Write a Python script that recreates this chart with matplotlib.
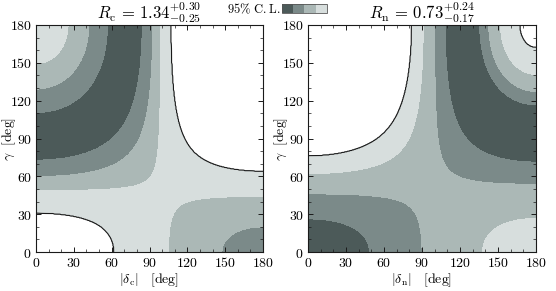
import matplotlib
matplotlib.use("Agg")
import matplotlib.pyplot as plt
import matplotlib.patches as mpatches
from matplotlib.ticker import MultipleLocator
import numpy as np

# measured ratios and quoted errors
R_C, R_C_UP, R_C_DN = 1.34, 0.30, 0.25
R_N, R_N_UP, R_N_DN = 0.73, 0.24, 0.17
# R(delta, gamma) = A + B cos(g) + C cos(d) + E cos(g) cos(d)
COEF_C = (0.9725, -0.084, 0.338, -0.494)
COEF_N = (1.0688, -0.0629, 0.286, -0.44)
# shade boundaries in units of the quoted error, above / below the central value
CL_C_UP = [0.58, 1.12, 1.56, 1.96]
CL_C_DN = [0.80, 1.28, 1.644, 2.10]
CL_N_UP = [0.725, 1.15, 1.625, 2.10]
CL_N_DN = [0.69, 1.035, 1.41, 1.80]
SHADES = ["#4c5a59", "#7b8a89", "#abb8b6", "#d7dedd"]
TICKS = [0, 30, 60, 90, 120, 150, 180]

INK = "#1a1a1a"

plt.rcParams.update({
    "mathtext.fontset": "cm",
    "font.family": "serif",
    "font.serif": ["DejaVu Serif"],
})


def ratio(coef, delta, gamma):
    a, b, c, e = coef
    cd = np.cos(np.radians(delta))
    cg = np.cos(np.radians(gamma))
    return a + b * cg + c * cd + e * cg * cd


def shade_index(dev, sig_up, sig_dn, cl_up, cl_dn):
    steps = [0, 1, 2, 3, 4, 5]
    up = np.interp(dev / sig_up, [0] + cl_up + [cl_up[-1] + 10], steps)
    dn = np.interp(-dev / sig_dn, [0] + cl_dn + [cl_dn[-1] + 10], steps)
    return np.where(dev > 0, up, dn)


def panel(ax, coef, r0, sig_up, sig_dn, cl_up, cl_dn, xlabel, title):
    d = np.linspace(0, 180, 361)
    g = np.linspace(0, 180, 361)
    D, G = np.meshgrid(d, g)
    z = shade_index(ratio(coef, D, G) - r0, sig_up, sig_dn, cl_up, cl_dn)
    ax.contourf(D, G, z, levels=[0, 1, 2, 3, 4], colors=SHADES)
    ax.contour(D, G, z, levels=[4], colors=INK, linewidths=0.8)
    ax.set_xlim(0, 180)
    ax.set_ylim(0, 180)
    ax.set_xticks(TICKS)
    ax.set_yticks(TICKS)
    ax.set_xticklabels([f"${t}$" for t in TICKS], fontsize=10)
    ax.set_yticklabels([f"${t}$" for t in TICKS], fontsize=10)
    ax.xaxis.set_minor_locator(MultipleLocator(10))
    ax.yaxis.set_minor_locator(MultipleLocator(10))
    ax.tick_params(which="both", direction="in", top=True, right=True, color=INK)
    ax.tick_params(which="major", length=3.5, width=0.7, pad=3)
    ax.tick_params(which="minor", length=2, width=0.5)
    for s in ax.spines.values():
        s.set_linewidth(0.8)
        s.set_color(INK)
    ax.set_xlabel(xlabel, fontsize=10, labelpad=1)
    ax.set_ylabel(r"$\gamma\ \ [\mathrm{deg}]$", fontsize=10, va="center")
    ax.yaxis.set_label_coords(-0.118, 0.5)
    ax.set_title(title, fontsize=12, pad=4)


fig = plt.figure(figsize=(5.56, 2.91), dpi=100, facecolor="white")
ax1 = fig.add_axes([36 / 556, 39 / 291, 227 / 556, 227 / 291])
ax2 = fig.add_axes([308 / 556, 39 / 291, 228 / 556, 227 / 291])

panel(ax1, COEF_C, R_C, R_C_UP, R_C_DN, CL_C_UP, CL_C_DN,
      r"$|\delta_\mathrm{c}|\ \ \ [\mathrm{deg}]$",
      rf"$R_\mathrm{{c}}\, =\, {R_C:.2f}^{{+{R_C_UP:.2f}}}_{{-{R_C_DN:.2f}}}$")
panel(ax2, COEF_N, R_N, R_N_UP, R_N_DN, CL_N_UP, CL_N_DN,
      r"$|\delta_\mathrm{n}|\ \ \ [\mathrm{deg}]$",
      rf"$R_\mathrm{{n}}\, =\, {R_N:.2f}^{{+{R_N_UP:.2f}}}_{{-{R_N_DN:.2f}}}$")

# legend strip
fig.text(280 / 556, 1 - 9 / 291, r"$95\%\ \mathrm{C.L.}$", ha="right", va="center", fontsize=9)
x0, w, y0, h = 282 / 556, 11.2 / 556, 1 - 13 / 291, 9 / 291
for i, c in enumerate(SHADES):
    fig.add_artist(mpatches.Rectangle((x0 + i * w, y0), w, h, transform=fig.transFigure,
                                      facecolor=c, edgecolor="none"))
fig.add_artist(mpatches.Rectangle((x0, y0), 4 * w, h, transform=fig.transFigure,
                                  facecolor="none", edgecolor="#555555", lw=0.6))

fig.savefig("out.png", dpi=100, facecolor="white")
